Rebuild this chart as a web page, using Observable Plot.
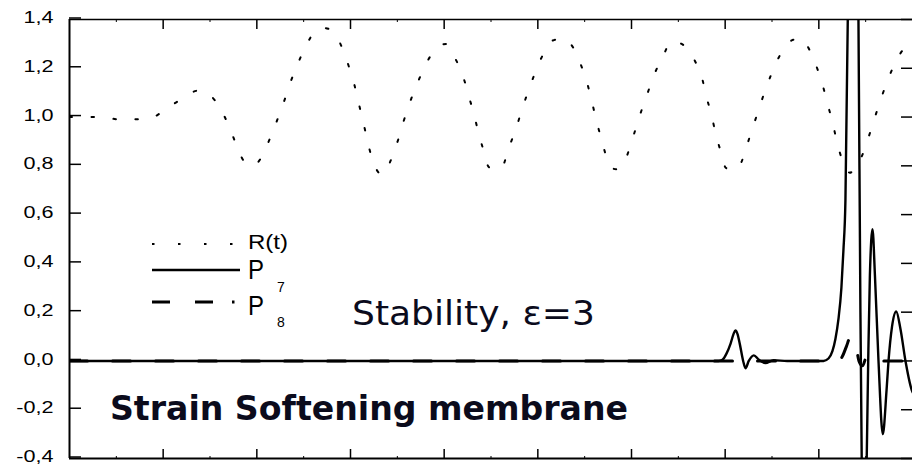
<!DOCTYPE html>
<html><head><meta charset="utf-8">
<script src="https://cdn.jsdelivr.net/npm/d3@7"></script>
<script src="https://cdn.jsdelivr.net/npm/@observablehq/plot@0.6"></script>
<style>body{margin:0;background:#fff} #chart svg{display:block}</style>
</head><body><div id="chart"></div>
<script>
// ---- data (t in x-tick units) ----
const tR = [0,0.285,0.563,0.836,1.103,1.388,1.601,1.697,1.775,1.865,1.954,2.057,2.143,2.217,2.288,2.352,2.427,2.512,2.637,2.722,2.811,2.918,2.986,3.043,3.088,3.135,3.178,3.227,3.338,3.445,3.512,3.569,3.633,3.708,3.790,3.921,4.020,4.128,4.206,4.260,4.316,4.363,4.417,4.476,4.550,4.623,4.690,4.761,4.822,4.886,4.957,5.036,5.160,5.265,5.377,5.463,5.527,5.576,5.610,5.651,5.704,5.762,5.835,5.907,5.982,6.042,6.103,6.171,6.238,6.331,6.427,6.523,6.676,6.755,6.800,6.854,6.896,6.950,7.007,7.080,7.156,7.227,7.288,7.352,7.416,7.487,7.572,7.726,7.810,7.914,7.993,8.053,8.103,8.153,8.196,8.256,8.330,8.400,8.487,8.551,8.612,8.676,8.747,8.832,8.986,9.08];
const vR = [1.0,1.0,0.99,0.993,1.052,1.109,1.041,0.967,0.893,0.818,0.80,0.84,0.915,0.987,1.061,1.135,1.209,1.282,1.356,1.365,1.351,1.277,1.203,1.13,1.056,0.982,0.908,0.834,0.764,0.837,0.911,0.985,1.059,1.132,1.206,1.282,1.30,1.233,1.162,1.089,1.015,0.941,0.867,0.795,0.783,0.798,0.874,0.946,1.02,1.094,1.168,1.241,1.314,1.322,1.285,1.211,1.139,1.065,1.01,0.948,0.874,0.80,0.786,0.803,0.875,0.949,1.023,1.097,1.17,1.244,1.31,1.302,1.231,1.157,1.083,1.009,0.936,0.862,0.792,0.782,0.802,0.877,0.95,1.023,1.097,1.17,1.244,1.317,1.322,1.264,1.188,1.114,1.041,0.967,0.893,0.819,0.772,0.795,0.867,0.941,1.015,1.089,1.162,1.236,1.307,1.32];

const tP7 = [0,6.929,6.971,7.014,7.057,7.089,7.110,7.132,7.156,7.192,7.217,7.252,7.306,7.360,7.430,7.516,7.662,8.050,8.103,8.145,8.177,8.209,8.241,8.262,8.284,8.309,8.327,8.359,8.391,8.423,8.444,8.460,8.481,8.503,8.527,8.545,8.573,8.599,8.637,8.683,8.723,8.744,8.781,8.826,8.872,8.925,9.0,9.06];
const vP7 = [0,0,0.005,0.03,0.07,0.11,0.125,0.11,0.07,0.0,-0.03,0.0,0.023,0.005,-0.009,0.003,0,0,0.01,0.04,0.09,0.17,0.3,0.45,0.66,1.4,2.5,3.5,2.5,1.4,0.2,-0.5,-0.9,-0.6,0.0,0.35,0.54,0.35,0.0,-0.30,-0.12,0.0,0.14,0.203,0.13,0.0,-0.127,-0.15];

const tP8 = [0,8.209,8.253,8.295,8.338,8.370,8.402,8.428,8.466,8.516,8.551,8.594,8.658,9.1];
const vP8 = [0,0,0.02,0.06,0.098,0.09,0.05,0.0,-0.02,0.023,0.01,-0.005,0,0];

const yTicks = [-0.4,-0.2,0,0.2,0.4,0.6,0.8,1.0,1.2,1.4];
const yTickLabels = ["-0,4","-0,2","0,0","0,2","0,4","0,6","0,8","1,0","1,2","1,4"];
const xMajor = [1,2,3,4,5,6,7,8];
const xMinor = [0.5,1.5,2.5,3.5,4.5,5.5,6.5,7.5,8.5];
const xDomain = [0, 9];
const yDomain = [-0.4, 1.4];

const seriesNames = ["R(t)", "P", "P"];
const seriesSubs = ["", "7", "8"];
const annotation1 = "Stability, ε=3";
const annotation2 = "Strain Softening membrane";

const rows = (ts, vs) => ts.map((t, i) => ({t, v: vs[i]}));
const rData = rows(tR, vR), p7Data = rows(tP7, vP7), p8Data = rows(tP8, vP8);
const labelOf = d => yTickLabels[yTicks.indexOf(d)];
const blank = () => "";

const chart = Plot.plot({
  width: 912, height: 464,
  marginLeft: 69, marginRight: 0, marginTop: 19, marginBottom: 6,
  style: {background: "white", fontFamily: "Liberation Sans, Arial, sans-serif", color: "#000"},
  x: {domain: xDomain, label: null},
  y: {domain: yDomain, label: null},
  marks: [
    Plot.line(rData, {x: "t", y: "v", curve: "monotone-x", stroke: "#000", strokeWidth: 2, strokeDasharray: "2.5,19.5", clip: true}),
    Plot.line(p7Data, {x: "t", y: "v", curve: "monotone-x", stroke: "#000", strokeWidth: 2.4, clip: true}),
    Plot.line(p8Data, {x: "t", y: "v", curve: "monotone-x", stroke: "#000", strokeWidth: 3, strokeDasharray: "18,25", clip: true}),
    Plot.ruleX([xDomain[0]], {stroke: "#000", strokeWidth: 2}),
    Plot.ruleY([yDomain[1]], {stroke: "#000", strokeWidth: 1.5}),
    Plot.ruleY([yDomain[0]], {stroke: "#000", strokeWidth: 2}),
    Plot.axisY(yTicks, {anchor: "left", tickSize: -12, tickPadding: 28, tickFormat: labelOf, fontSize: 16, dy: -1.5, strokeWidth: 1.5}),
    Plot.axisY(yTicks, {anchor: "right", tickSize: -12, tickPadding: 0, tickFormat: blank, strokeWidth: 1.5}),
    Plot.axisX(xMajor, {anchor: "bottom", tickSize: -9, tickFormat: blank, strokeWidth: 1.5, label: null}),
    Plot.axisX(xMajor, {anchor: "top", tickSize: -9, tickFormat: blank, strokeWidth: 1.5, label: null}),
    Plot.axisX(xMinor, {anchor: "bottom", tickSize: -2, tickFormat: blank, label: null}),
    Plot.axisX(xMinor, {anchor: "top", tickSize: -2, tickFormat: blank, label: null})
  ]
});
document.getElementById("chart").appendChild(chart);

// stretch y tick labels horizontally like the reference
d3.select(chart).selectAll('g[aria-label="y-axis tick label"] text').each(function() {
  const len = this.getComputedTextLength();
  if (len > 0) { this.setAttribute("textLength", len * 1.35); this.setAttribute("lengthAdjust", "spacingAndGlyphs"); }
});

const svg = d3.select(chart);
const ink = "#0b0b1c";
// legend
const lg = svg.append("g").attr("fill", "#000").attr("stroke", "#000");
lg.append("line").attr("x1", 152).attr("x2", 234).attr("y1", 244).attr("y2", 244).attr("stroke-width", 2).attr("stroke-dasharray", "2.5,23.5");
lg.append("line").attr("x1", 152).attr("x2", 240).attr("y1", 270).attr("y2", 270).attr("stroke-width", 2.4);
lg.append("line").attr("x1", 152).attr("x2", 235).attr("y1", 302).attr("y2", 302).attr("stroke-width", 3).attr("stroke-dasharray", "18,25,18,19,2.5,100");
const lt = lg.append("g").attr("stroke", "none").attr("text-anchor", "start").attr("font-family", "Liberation Sans, Arial, sans-serif");
lt.append("text").attr("x", 248).attr("y", 249).attr("font-size", 20).attr("textLength", 40).attr("lengthAdjust", "spacingAndGlyphs").text(seriesNames[0]);
lt.append("text").attr("x", 248).attr("y", 279).attr("font-size", 28).attr("textLength", 16).attr("lengthAdjust", "spacingAndGlyphs").text(seriesNames[1]);
lt.append("text").attr("x", 277).attr("y", 292).attr("font-size", 14).text(seriesSubs[1]);
lt.append("text").attr("x", 248).attr("y", 315).attr("font-size", 28).attr("textLength", 16).attr("lengthAdjust", "spacingAndGlyphs").text(seriesNames[2]);
lt.append("text").attr("x", 277).attr("y", 327).attr("font-size", 14).text(seriesSubs[2]);
// annotations
svg.append("text").attr("x", 352).attr("y", 325).attr("text-anchor", "start").attr("font-family", "DejaVu Sans, sans-serif").attr("font-size", 34)
  .attr("fill", ink).attr("textLength", 243).attr("lengthAdjust", "spacingAndGlyphs").text(annotation1);
svg.append("text").attr("x", 110).attr("y", 420).attr("text-anchor", "start").attr("font-family", "DejaVu Sans, sans-serif").attr("font-weight", "bold").attr("font-size", 34)
  .attr("fill", ink).attr("textLength", 518).attr("lengthAdjust", "spacingAndGlyphs").text(annotation2);
</script>
</body></html>
